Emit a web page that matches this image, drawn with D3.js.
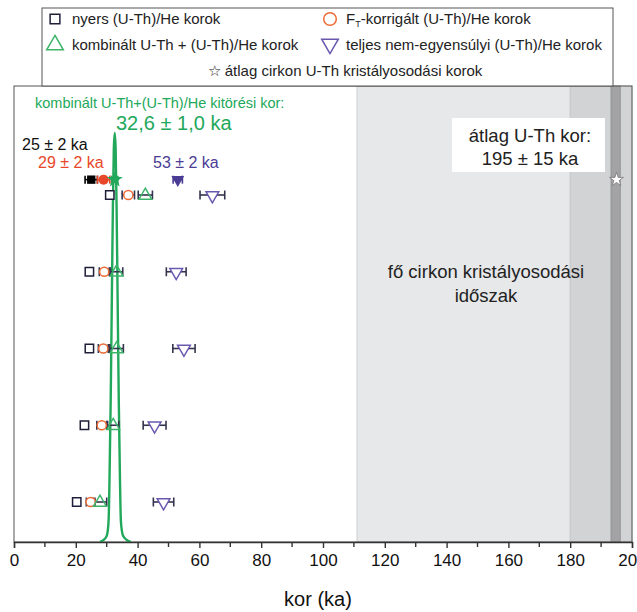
<!DOCTYPE html>
<html><head><meta charset="utf-8">
<script src="https://cdn.jsdelivr.net/npm/d3@7"></script>
<style>body{margin:0;background:#fff}svg{display:block;font-family:"Liberation Sans",Arial,sans-serif}</style>
</head><body><svg id="c" width="637" height="612"></svg>
<script>
// ---- data ----
const rows = [1, 2, 3, 4, 5];
const rawAges = [31, 24.4, 24.4, 22.8, 20.3];
const ftAges = [37, 29.2, 28.9, 28.4, 24.8];
const ftErr = [2, 1.6, 1.6, 1.6, 1.4];
const combAges = [42.5, 33.2, 33.2, 32.1, 27.8];
const combErr = [2.3, 2.0, 2.2, 1.8, 2.2];
const diseqAges = [64.2, 52.5, 55.0, 45.5, 48.4];
const diseqErr = [4.0, 3.2, 3.6, 3.7, 3.3];
const meanRow = 0.8;
const meanAges = [25, 29, 32.6, 53];
const meanErr = [2, 2, 1, 1.5];
const crystAge = 195;
const bands = [[111, 180], [180, 200], [193.2, 196.2]];
const curveAge = [27.8, 29.0, 30.0, 30.6, 30.9, 31.3, 31.7, 32.0, 32.3, 32.6, 32.9, 33.2, 33.5, 33.9, 34.3, 34.6, 35.3, 36.5, 37.8];
const curveDens = [0, 0.005, 0.015, 0.05, 0.15, 0.35, 0.62, 0.82, 0.96, 1.0, 0.96, 0.82, 0.62, 0.35, 0.15, 0.05, 0.015, 0.005, 0];
const xTicks = [0, 20, 40, 60, 80, 100, 120, 140, 160, 180, 200];
const xMinor = [10, 30, 50, 70, 90, 110, 130, 150, 170, 190];

// ---- setup ----
const svg = d3.select("#c");
const x = d3.scaleLinear().domain([0, 200]).range([14, 632]);
const y = d3.scaleLinear().domain([1, 5]).range([195, 502]);
const yd = d3.scaleLinear().domain([0, 1]).range([542, 133]);
const plotTop = 86, plotBottom = 542;

const C = {sq: "#1f1f3a", ci: "#ee6a35", tr: "#3db36a", it: "#6a58b0", bar: "#34344e",
  green: "#22a85a", red: "#e8472a", purple: "#4a3c94"};

// bands
const bandFill = ["#e7e8e9", "#d2d3d5", "#a3a3a5"];
svg.selectAll("rect.band").data(bands).join("rect")
  .attr("x", d => x(d[0])).attr("width", d => x(d[1]) - x(d[0]))
  .attr("y", plotTop).attr("height", plotBottom - plotTop)
  .attr("fill", (d, i) => bandFill[i]).attr("stroke", (d, i) => i < 2 ? "#c4c5c7" : "#8e8e90").attr("stroke-width", 0.8);

// annotation boxes/text on right
svg.append("rect").attr("x", 452).attr("y", 118).attr("width", 153).attr("height", 54).attr("fill", "#fff");
svg.append("text").attr("x", 530).attr("y", 142).attr("text-anchor", "middle").attr("font-size", 18.5).attr("fill", "#222").text("átlag U-Th kor:");
svg.append("text").attr("x", 530).attr("y", 165).attr("text-anchor", "middle").attr("font-size", 18.5).attr("fill", "#222").text("195 ± 15 ka");
svg.append("text").attr("x", 486).attr("y", 278).attr("text-anchor", "middle").attr("font-size", 18.5).attr("fill", "#222").text("fő cirkon kristályosodási");
svg.append("text").attr("x", 486).attr("y", 302).attr("text-anchor", "middle").attr("font-size", 18.5).attr("fill", "#222").text("időszak");

// frame
svg.append("rect").attr("x", x(0)).attr("y", plotTop).attr("width", x(200) - x(0)).attr("height", plotBottom - plotTop)
  .attr("fill", "none").attr("stroke", "#555").attr("stroke-width", 1);

// green curve
const pts = curveAge.map((a, i) => [a, curveDens[i]]);
svg.append("path").datum(pts)
  .attr("d", d3.line().x(d => x(d[0])).y(d => yd(d[1])).curve(d3.curveMonotoneX))
  .attr("fill", "none").attr("stroke", C.green).attr("stroke-width", 2.4);

// symbols
const triUp = d3.symbol().type(d3.symbolTriangle).size(70);
const sqSym = d3.symbol().type(d3.symbolSquare).size(70);
function errBar(g, v, e, yy, col, cap) {
  g.append("line").attr("x1", x(v - e)).attr("x2", x(v + e)).attr("y1", yy).attr("y2", yy).attr("stroke", col).attr("stroke-width", 1.6);
  [v - e, v + e].forEach(t => g.append("line").attr("x1", x(t)).attr("x2", x(t)).attr("y1", yy - cap).attr("y2", yy + cap).attr("stroke", col).attr("stroke-width", 1.6));
}
const gd = svg.append("g");
rows.forEach((r, i) => {
  const yy = y(r);
  errBar(gd, diseqAges[i], diseqErr[i], yy, C.bar, 4.5);
  errBar(gd, combAges[i], combErr[i], yy, C.bar, 4.5);
  errBar(gd, ftAges[i], ftErr[i], yy, C.bar, 4.5);
});
rows.forEach((r, i) => {
  const yy = y(r);
  gd.append("path").attr("d", sqSym()).attr("transform", `translate(${x(rawAges[i])},${yy})`).attr("fill", "#fff").attr("stroke", C.sq).attr("stroke-width", 1.5);
  gd.append("circle").attr("cx", x(ftAges[i])).attr("cy", yy).attr("r", 4.6).attr("fill", "#fff").attr("stroke", C.ci).attr("stroke-width", 1.5);
  gd.append("path").attr("d", triUp()).attr("transform", `translate(${x(combAges[i])},${yy + 0.5})`).attr("fill", "none").attr("stroke", C.tr).attr("stroke-width", 1.5);
  gd.append("path").attr("d", triUp()).attr("transform", `translate(${x(diseqAges[i])},${yy + 0.5}) rotate(180)`).attr("fill", "#fff").attr("stroke", C.it).attr("stroke-width", 1.5);
});

// mean row
const ym = y(meanRow);
errBar(gd, meanAges[0], meanErr[0], ym, "#000", 4);
errBar(gd, meanAges[1], meanErr[1], ym, C.red, 4);
errBar(gd, meanAges[3], meanErr[3], ym, C.purple, 4);
gd.append("path").attr("d", sqSym()).attr("transform", `translate(${x(meanAges[0])},${ym})`).attr("fill", "#000");
gd.append("circle").attr("cx", x(meanAges[1])).attr("cy", ym).attr("r", 5).attr("fill", C.red);
errBar(gd, meanAges[2], meanErr[2], ym, C.green, 4);
gd.append("path").attr("d", d3.symbol().type(d3.symbolStar).size(80)()).attr("transform", `translate(${x(meanAges[2])},${ym})`).attr("fill", C.green);
gd.append("path").attr("d", triUp()).attr("transform", `translate(${x(meanAges[3])},${ym}) rotate(180)`).attr("fill", C.purple);
gd.append("path").attr("d", d3.symbol().type(d3.symbolStar).size(60)()).attr("transform", `translate(${x(crystAge)},${ym})`).attr("fill", "#fff").attr("stroke", "#777").attr("stroke-width", 0.8);

// annotations
svg.append("text").attr("x", 35).attr("y", 108).attr("font-size", 14.5).attr("fill", C.green).text("kombinált U-Th+(U-Th)/He kitörési kor:");
svg.append("text").attr("x", 116).attr("y", 130).attr("font-size", 20).attr("fill", C.green).text("32,6 ± 1,0 ka");
svg.append("text").attr("x", 22).attr("y", 150).attr("font-size", 16).attr("fill", "#111").text("25 ± 2 ka");
svg.append("text").attr("x", 38).attr("y", 168).attr("font-size", 16).attr("fill", C.red).text("29 ± 2 ka");
svg.append("text").attr("x", 153).attr("y", 168).attr("font-size", 16).attr("fill", C.purple).text("53 ± 2 ka");

// axis
const ax = svg.append("g").attr("transform", `translate(0,${plotBottom})`)
  .call(d3.axisBottom(x).tickValues(xTicks).tickSize(6).tickPadding(6).tickFormat(d3.format("d")));
ax.select(".domain").attr("stroke", "#333").attr("stroke-width", 1.4);
ax.selectAll(".tick line").attr("stroke", "#333").attr("stroke-width", 1.4);
ax.selectAll(".tick text").attr("font-size", 17).attr("fill", "#111").attr("font-family", "Liberation Sans, Arial, sans-serif");
svg.append("g").selectAll("line").data(xMinor).join("line")
  .attr("x1", d => x(d)).attr("x2", d => x(d)).attr("y1", plotBottom).attr("y2", plotBottom + 5)
  .attr("stroke", "#333").attr("stroke-width", 1.4);
svg.append("text").attr("x", 318).attr("y", 606).attr("text-anchor", "middle").attr("font-size", 20).attr("fill", "#111").text("kor (ka)");

// legend
const lg = svg.append("g");
lg.append("rect").attr("x", 42).attr("y", 8).attr("width", 571).attr("height", plotTop - 8).attr("fill", "#fff").attr("stroke", "#555").attr("stroke-width", 1);
const ly = [24, 50, 76];
const lfs = 15;
lg.append("path").attr("d", d3.symbol().type(d3.symbolSquare).size(95)()).attr("transform", `translate(55,${ly[0] - 5})`).attr("fill", "#fff").attr("stroke", C.sq).attr("stroke-width", 1.5);
lg.append("text").attr("x", 72).attr("y", ly[0]).attr("font-size", lfs).attr("fill", "#222").text("nyers (U-Th)/He korok");
lg.append("circle").attr("cx", 330).attr("cy", ly[0] - 5).attr("r", 6.3).attr("fill", "#fff").attr("stroke", C.ci).attr("stroke-width", 1.5);
const ftText = lg.append("text").attr("x", 346).attr("y", ly[0]).attr("font-size", lfs).attr("fill", "#222");
ftText.append("tspan").text("F");
ftText.append("tspan").attr("font-size", 9).attr("dy", 3).text("T");
ftText.append("tspan").attr("dy", -3).text("-korrigált (U-Th)/He korok");
lg.append("path").attr("d", d3.symbol().type(d3.symbolTriangle).size(120)()).attr("transform", `translate(55,${ly[1] - 5})`).attr("fill", "none").attr("stroke", C.tr).attr("stroke-width", 1.5);
lg.append("text").attr("x", 72).attr("y", ly[1]).attr("font-size", lfs).attr("fill", "#222").text("kombinált U-Th + (U-Th)/He korok");
lg.append("path").attr("d", d3.symbol().type(d3.symbolTriangle).size(120)()).attr("transform", `translate(330,${ly[1] - 6}) rotate(180)`).attr("fill", "none").attr("stroke", C.it).attr("stroke-width", 1.5);
lg.append("text").attr("x", 346).attr("y", ly[1]).attr("font-size", lfs).attr("fill", "#222").text("teljes nem-egyensúlyi (U-Th)/He korok");
lg.append("text").attr("x", 345).attr("y", ly[2]).attr("text-anchor", "middle").attr("font-size", lfs).attr("fill", "#222").text("☆ átlag cirkon U-Th kristályosodási korok");
</script></body></html>
